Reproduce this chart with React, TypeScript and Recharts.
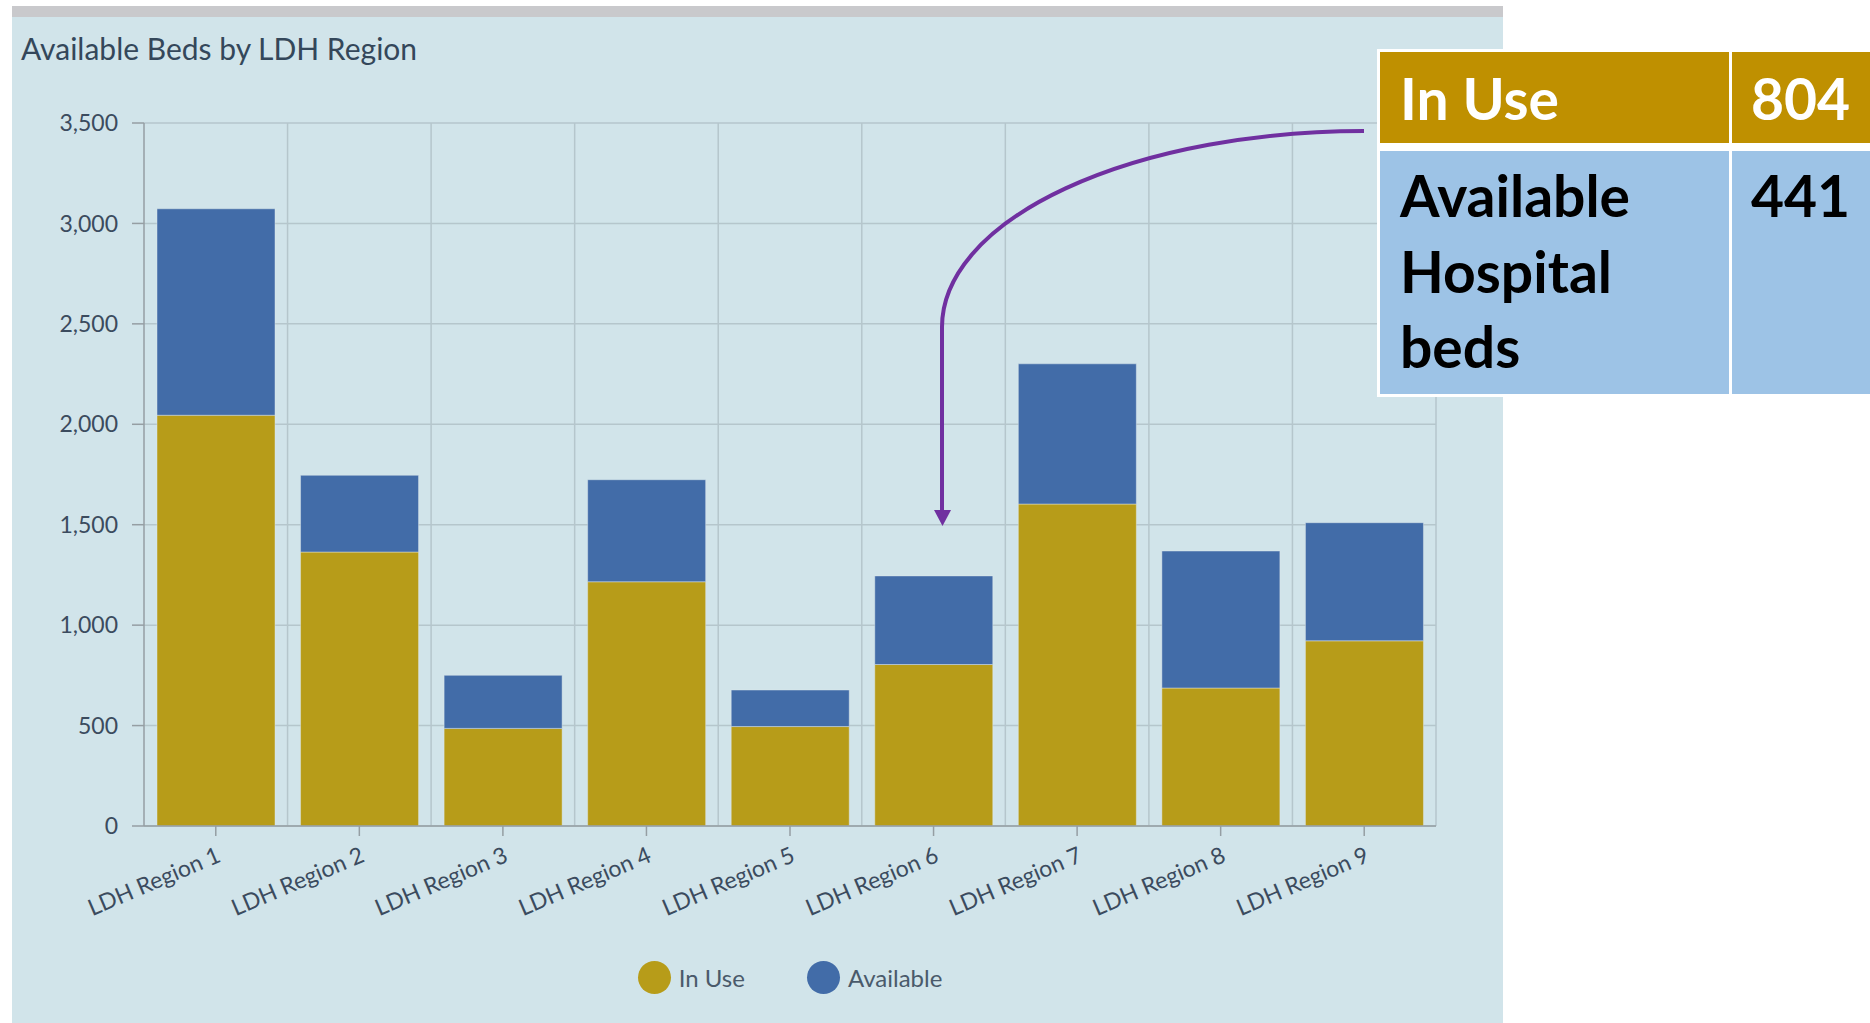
import React from 'react';
import { BarChart, Bar, XAxis, YAxis, CartesianGrid, Legend } from 'recharts';

const regions = [
  'LDH Region 1',
  'LDH Region 2',
  'LDH Region 3',
  'LDH Region 4',
  'LDH Region 5',
  'LDH Region 6',
  'LDH Region 7',
  'LDH Region 8',
  'LDH Region 9',
];
const inUse = [2045, 1364, 486, 1216, 495, 804, 1603, 687, 922];
const available = [1028, 382, 264, 508, 182, 441, 698, 682, 588];
const yTicks = [0, 500, 1000, 1500, 2000, 2500, 3000, 3500];
const seriesNames = ['In Use', 'Available'];
const chartTitle = 'Available Beds by LDH Region';
const calloutRows = [
  { label: ['In Use'], value: '804' },
  { label: ['Available', 'Hospital', 'beds'], value: '441' },
];

const data = regions.map((region, i) => ({
  region,
  inUse: inUse[i],
  available: available[i],
}));

const GOLD = '#b79c19';
const BLUE = '#426ca8';
const BG = '#d1e4ea';
const GRID = '#b5c6cc';
const AXIS = '#959ea3';
const TEXT = '#3b4b5e';
const FONT = 'Lato, "Open Sans", sans-serif';

const XTick = (props: any) => {
  const { x, y, payload } = props;
  return (
    <text
      x={x}
      y={y}
      dy="0.71em"
      textAnchor="end"
      transform={`rotate(-23 ${x} ${y})`}
      fontFamily={FONT}
      fontSize={23}
      fill={TEXT}
    >
      {payload.value}
    </text>
  );
};

const LegendContent = (props: any) => {
  const items = [...(props.payload || [])].sort(
    (a: any, b: any) => seriesNames.indexOf(a.value) - seriesNames.indexOf(b.value)
  );
  return (
    <div
      style={{
        display: 'flex',
        justifyContent: 'center',
        alignItems: 'center',
        fontFamily: FONT,
        fontSize: 24,
        color: '#4a5a6b',
      }}
    >
      {items.map((entry: any, i: number) => (
        <div
          key={entry.value}
          style={{ display: 'flex', alignItems: 'center', marginLeft: i === 0 ? 0 : 62 }}
        >
          <div
            style={{
              width: 33,
              height: 33,
              borderRadius: '50%',
              backgroundColor: entry.color,
            }}
          />
          <span style={{ marginLeft: 8, lineHeight: '33px' }}>{entry.value}</span>
        </div>
      ))}
    </div>
  );
};

export default function App() {
  return (
    <div
      style={{
        position: 'absolute',
        left: 0,
        top: 0,
        width: 1870,
        height: 1023,
        background: '#ffffff',
        overflow: 'hidden',
      }}
    >
      <div style={{ position: 'absolute', left: 12, top: 6, width: 1491, height: 11, background: '#c9c9cc' }} />
      <div style={{ position: 'absolute', left: 12, top: 17, width: 1491, height: 1006, background: BG }}>
        <BarChart
          width={1491}
          height={1006}
          data={data}
          margin={{ top: 106, right: 67, bottom: 77, left: 0 }}
          barCategoryGap={13}
        >
          <CartesianGrid
            stroke={GRID}
            strokeWidth={1.5}
            verticalCoordinatesGenerator={({ offset }: any) =>
              regions.map((_, i) => offset.left + ((i + 1) * offset.width) / regions.length)
            }
          />
          <XAxis
            dataKey="region"
            height={120}
            interval={0}
            tick={<XTick />}
            tickSize={10}
            tickMargin={10}
            axisLine={{ stroke: AXIS, strokeWidth: 1.5 }}
            tickLine={{ stroke: AXIS, strokeWidth: 1.5 }}
          />
          <YAxis
            width={132}
            domain={[0, 3500]}
            ticks={yTicks}
            interval={0}
            tickFormatter={(v: number) => v.toLocaleString('en-US')}
            tickSize={12}
            tickMargin={14}
            tick={{ fontFamily: FONT, fontSize: 23, fill: TEXT }}
            axisLine={{ stroke: AXIS, strokeWidth: 1.5 }}
            tickLine={{ stroke: AXIS, strokeWidth: 1.5 }}
          />
          <Legend
            layout="horizontal"
            verticalAlign="middle"
            align="center"
            content={<LegendContent />}
            wrapperStyle={{ top: 944, left: 132, width: 1292, height: 34 }}
          />
          <Bar
            dataKey="inUse"
            name={seriesNames[0]}
            stackId="beds"
            fill={GOLD}
            stroke="rgba(225,232,238,0.45)"
            strokeWidth={1}
            isAnimationActive={false}
          />
          <Bar
            dataKey="available"
            name={seriesNames[1]}
            stackId="beds"
            fill={BLUE}
            stroke="rgba(225,232,238,0.45)"
            strokeWidth={1}
            isAnimationActive={false}
          />
        </BarChart>
      </div>
      <svg
        width={1870}
        height={1023}
        style={{ position: 'absolute', left: 0, top: 0, pointerEvents: 'none' }}
      >
        <text x={21} y={60} fontFamily={FONT} fontSize={30} fill="#34475a">
          {chartTitle}
        </text>
        <path
          d="M 1364 131 A 422 196 0 0 0 942 327 L 942 512"
          fill="none"
          stroke="#7030a0"
          strokeWidth={4}
        />
        <polygon points="934,510 951,510 942.5,526" fill="#7030a0" />
        <rect x={1377} y={49} width={493} height={348} fill="#ffffff" />
        <rect x={1380} y={52} width={349} height={91} fill="#bf9000" />
        <rect x={1732} y={52} width={138} height={91} fill="#bf9000" />
        <rect x={1380} y={151} width={349} height={243} fill="#9dc3e6" />
        <rect x={1732} y={151} width={138} height={243} fill="#9dc3e6" />
        <text x={1400} y={120} fontFamily={FONT} fontWeight={700} fontSize={57} fill="#ffffff">
          {calloutRows[0].label[0]}
        </text>
        <text x={1751} y={120} fontFamily={FONT} fontWeight={700} fontSize={57} fill="#ffffff">
          {calloutRows[0].value}
        </text>
        {calloutRows[1].label.map((line, i) => (
          <text
            key={line}
            x={1400}
            y={217 + i * 75.5}
            fontFamily={FONT}
            fontWeight={700}
            fontSize={57}
            fill="#000000"
          >
            {line}
          </text>
        ))}
        <text x={1751} y={217} fontFamily={FONT} fontWeight={700} fontSize={57} fill="#000000">
          {calloutRows[1].value}
        </text>
      </svg>
    </div>
  );
}
